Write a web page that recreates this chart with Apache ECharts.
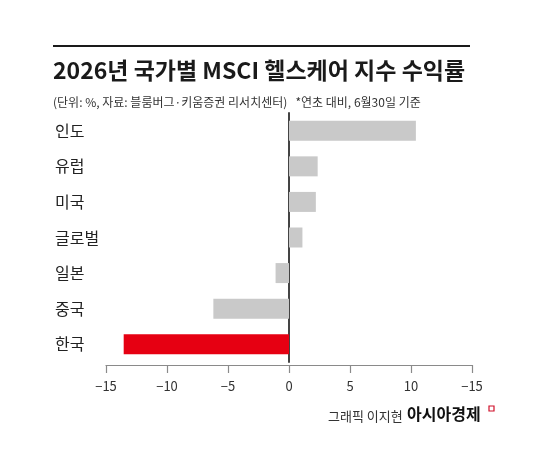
<!DOCTYPE html>
<html>
<head>
<meta charset="utf-8">
<script src="https://cdn.jsdelivr.net/npm/echarts@6/dist/echarts.min.js"></script>
<style>
  html, body { margin: 0; padding: 0; background: #fff; }
  #chart { width: 550px; height: 476px; }
</style>
</head>
<body>
<div id="chart"></div>
<script>
// 국가별 MSCI 헬스케어 지수 수익률 (%)
const countries = ['인도', '유럽', '미국', '글로벌', '일본', '중국', '한국']
const returns = [10.4, 2.35, 2.2, 1.1, -1.1, -6.2, -13.55]
const highlight = '한국'
// 원본 그래픽의 눈금 표기 그대로 (오른쪽 끝도 −15)
const tickLabels = ['−15', '−10', '−5', '0', '5', '10', '−15']

const KR = '"Noto Sans CJK KR", "Noto Sans", sans-serif'

const chart = echarts.init(document.getElementById('chart'))

const option = {
  backgroundColor: '#fff',
  animation: false,
  title: [
    {
      text: '2026년 국가별 MSCI 헬스케어 지수 수익률',
      left: 48,
      top: 54,
      textStyle: { fontFamily: KR, fontSize: 23, fontWeight: 'bold', color: '#1a1a1a' }
    },
    {
      text: '(단위: %, 자료: 블룸버그·키움증권 리서치센터)   *연초 대비, 6월30일 기준',
      left: 48,
      top: 91,
      textStyle: { fontFamily: KR, fontSize: 12, fontWeight: 'normal', color: '#333' }
    }
  ],
  graphic: [
    {
      type: 'line',
      shape: { x1: 53, y1: 46, x2: 470, y2: 46 },
      style: { stroke: '#1a1a1a', lineWidth: 2 }
    },
    {
      type: 'text',
      left: 328,
      top: 410,
      style: { text: '그래픽 이지현', font: '13px ' + KR, fill: '#333' }
    },
    {
      type: 'text',
      left: 407,
      top: 406,
      style: { text: '아시아경제', font: 'bold 16px ' + KR, fill: '#111' }
    },
    {
      type: 'rect',
      shape: { x: 489, y: 406, width: 5, height: 5 },
      style: { fill: 'none', stroke: '#d0102a', lineWidth: 1.2 }
    }
  ],
  grid: {
    left: 106,
    right: 78,
    top: 113,
    bottom: 114,
    outerBoundsMode: 'none',
    containLabel: false
  },
  xAxis: {
    type: 'value',
    min: -15,
    max: 15,
    interval: 5,
    offset: 3,
    splitLine: { show: false },
    axisLine: { show: true, lineStyle: { color: '#8a8a8a', width: 1.2 } },
    axisTick: { show: true, length: 8, lineStyle: { color: '#8a8a8a', width: 1.2 } },
    axisLabel: {
      margin: 15,
      fontFamily: KR,
      fontSize: 13,
      color: '#333',
      formatter: (v, i) => tickLabels[i]
    }
  },
  yAxis: {
    type: 'category',
    inverse: true,
    data: countries,
    axisLine: { onZero: true, lineStyle: { color: '#444', width: 2 } },
    axisTick: { show: false },
    axisLabel: {
      align: 'left',
      margin: 51,
      fontFamily: KR,
      fontSize: 16,
      color: '#222'
    }
  },
  series: [
    {
      type: 'bar',
      barWidth: 20,
      z: 1,
      data: returns.map((v, i) => ({
        value: v,
        itemStyle: { color: countries[i] === highlight ? '#e60012' : '#c9c9c9' }
      }))
    }
  ]
}

chart.setOption(option)
</script>
</body>
</html>
